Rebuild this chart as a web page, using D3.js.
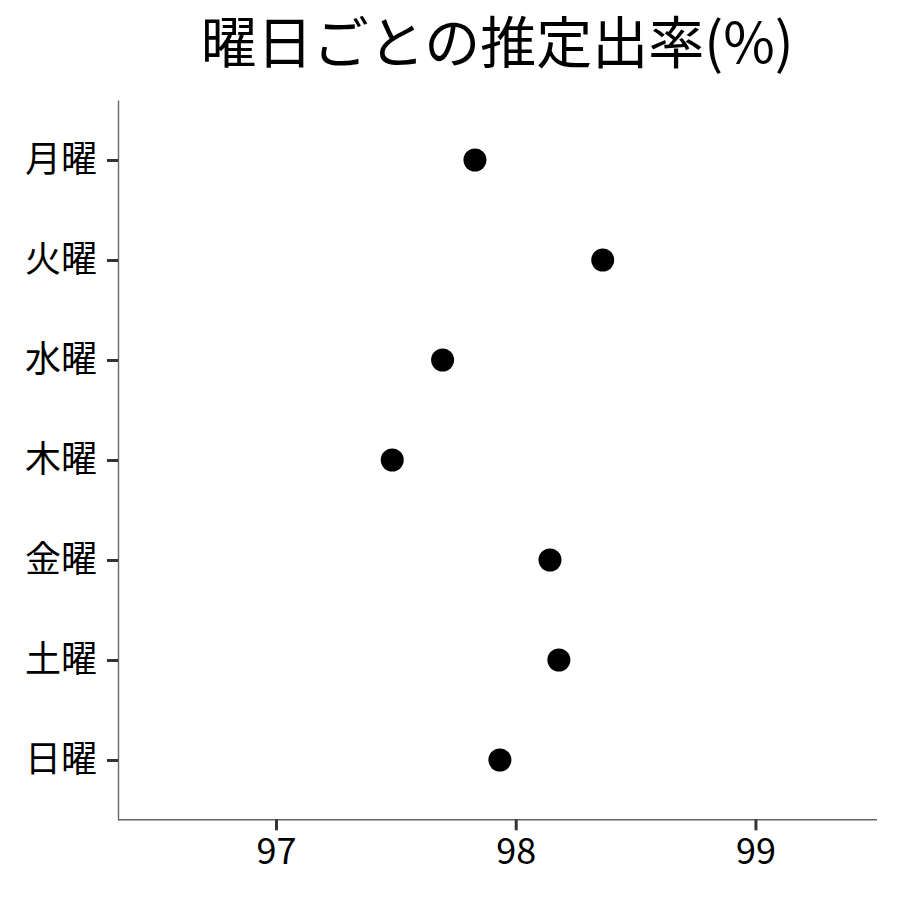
<!DOCTYPE html>
<html>
<head>
<meta charset="utf-8">
<script src="https://cdn.jsdelivr.net/npm/d3@7"></script>
<style>
  body { margin: 0; background: #fff; }
  text { font-family: "Noto Sans CJK JP", "Noto Sans", sans-serif; }
</style>
</head>
<body>
<svg id="chart" width="900" height="900"></svg>
<script>
var days = ["月曜", "火曜", "水曜", "木曜", "金曜", "土曜", "日曜"];
var rates = [97.83, 98.363, 97.695, 97.485, 98.143, 98.18, 97.934];
var xTicks = [97, 98, 99];
var title = "曜日ごとの推定出率(%)";

var panelLeft = 118, panelRight = 876.5, panelTop = 100, panelBottom = 820;
var svg = d3.select("#chart");

var x = d3.scaleLinear().domain([96.341, 99.505]).range([panelLeft, panelRight]);
var y = d3.scalePoint().domain(days).range([panelTop, panelBottom]).padding(0.6);

// title, centred over the panel
svg.append("text")
  .attr("x", (panelLeft + panelRight) / 2).attr("y", 63)
  .attr("text-anchor", "middle")
  .style("font-size", "56px")
  .text(title);

// y axis
var gy = svg.append("g").attr("transform", "translate(" + panelLeft + ",0)")
  .call(d3.axisLeft(y).tickSize(11).tickPadding(10).tickSizeOuter(0));
// x axis
var gx = svg.append("g").attr("transform", "translate(0," + (panelBottom - 0.7) + ")")
  .call(d3.axisBottom(x).tickValues(xTicks).tickFormat(d3.format("d")).tickSize(11).tickPadding(8).tickSizeOuter(0));

[gy, gx].forEach(function(g) {
  g.select(".domain").attr("stroke", "#666").attr("stroke-width", 1.4);
  g.selectAll(".tick line").attr("stroke", "#333").attr("stroke-width", 3);
  g.selectAll(".tick text").attr("fill", "#000").style("font-size", "36px");
});

// points
svg.append("g").selectAll("circle")
  .data(days).enter().append("circle")
  .attr("cx", function(d, i) { return x(rates[i]); })
  .attr("cy", function(d) { return y(d); })
  .attr("r", 11.5)
  .attr("fill", "#000");
</script>
</body>
</html>
